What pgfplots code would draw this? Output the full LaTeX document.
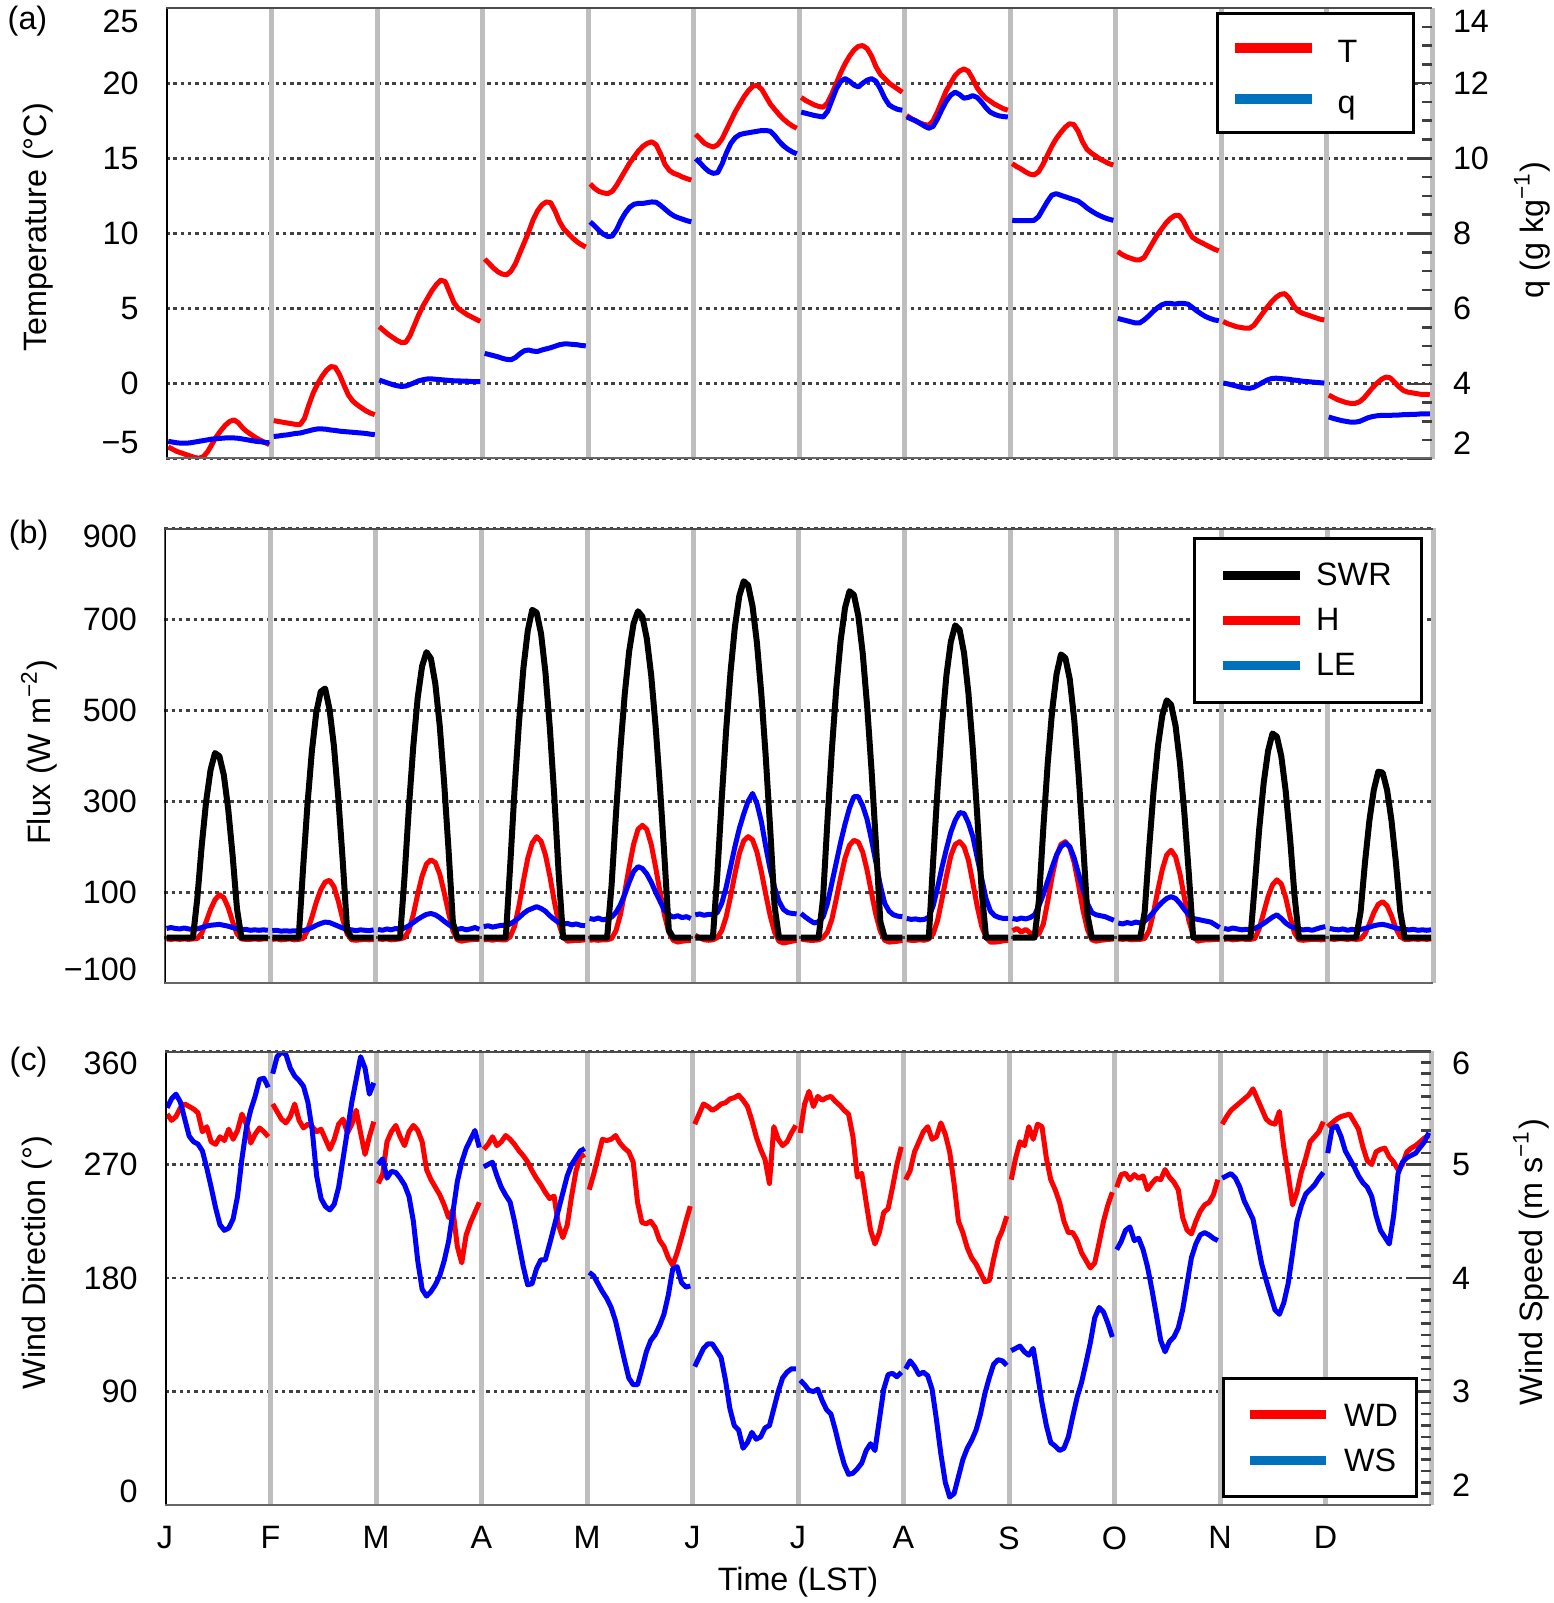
\documentclass[border=0pt]{standalone}
\usepackage{fontspec}
\setmainfont{Liberation Sans}
\usepackage{pgfplots}
\usepackage{pgfplotstable}
\pgfplotsset{compat=1.18}
\definecolor{legblue}{RGB}{0,114,189}
\definecolor{mgray}{RGB}{190,190,190}
\definecolor{dgrid}{RGB}{64,64,64}

\pgfplotstableread{
h m1 m2 m3 m4 m5 m6 m7 m8 m9 m10 m11 m12
0 -4.2 -2.45 3.8 8.3 13.3 16.6 19.05 17.85 14.65 8.8 4.15 -0.75
1 -4.35 -2.5 3.55 8.0 13.0 16.3 18.85 17.65 14.45 8.6 4.0 -0.9
2 -4.5 -2.55 3.3 7.7 12.8 16.0 18.7 17.5 14.3 8.45 3.9 -1.05
3 -4.6 -2.6 3.1 7.45 12.7 15.85 18.55 17.35 14.1 8.35 3.8 -1.15
4 -4.7 -2.65 2.9 7.3 12.65 15.75 18.45 17.25 13.95 8.25 3.75 -1.25
5 -4.8 -2.7 2.75 7.25 12.8 15.9 18.4 17.2 13.9 8.25 3.7 -1.3
6 -4.9 -2.72 2.75 7.5 13.2 16.3 18.7 17.5 14.1 8.4 3.7 -1.3
7 -4.95 -2.3 3.2 8.0 13.7 16.9 19.3 18.1 14.6 8.9 3.9 -1.2
8 -4.85 -1.4 3.9 8.7 14.2 17.5 20.0 18.8 15.2 9.4 4.3 -0.95
9 -4.5 -0.6 4.6 9.4 14.7 18.1 20.7 19.5 15.8 9.9 4.7 -0.6
10 -4.0 0.0 5.2 10.1 15.1 18.6 21.3 20.0 16.3 10.3 5.1 -0.25
11 -3.5 0.5 5.7 10.9 15.5 19.1 21.8 20.5 16.7 10.7 5.45 0.05
12 -3.1 0.9 6.2 11.5 15.8 19.5 22.2 20.8 17.05 11.0 5.75 0.3
13 -2.75 1.15 6.6 11.9 16.0 19.8 22.45 20.95 17.3 11.2 5.95 0.45
14 -2.5 1.1 6.9 12.1 16.1 19.85 22.5 20.8 17.25 11.2 6.0 0.4
15 -2.4 0.6 6.8 12.05 15.9 19.6 22.3 20.3 16.8 10.8 5.7 0.1
16 -2.6 -0.1 6.1 11.5 15.3 19.1 21.8 19.7 16.1 10.2 5.2 -0.2
17 -2.95 -0.75 5.4 10.8 14.6 18.6 21.1 19.3 15.6 9.75 4.85 -0.45
18 -3.2 -1.15 5.0 10.3 14.2 18.25 20.6 19.0 15.35 9.55 4.7 -0.55
19 -3.4 -1.4 4.8 10.0 14.0 17.9 20.3 18.8 15.15 9.4 4.6 -0.6
20 -3.6 -1.6 4.6 9.7 13.9 17.6 20.0 18.6 14.95 9.25 4.5 -0.65
21 -3.75 -1.8 4.45 9.45 13.75 17.35 19.8 18.45 14.8 9.1 4.4 -0.7
22 -3.9 -1.95 4.3 9.25 13.65 17.15 19.6 18.3 14.65 8.95 4.3 -0.7
23 -4.05 -2.05 4.15 9.1 13.55 17.0 19.4 18.2 14.55 8.85 4.25 -0.72
}\Ttab

\pgfplotstableread{
h m1 m2 m3 m4 m5 m6 m7 m8 m9 m10 m11 m12
0 2.47 2.6 4.1 4.81 8.31 9.99 11.23 11.1 8.35 5.74 4.02 3.12
1 2.45 2.61 4.06 4.78 8.2 9.88 11.2 11.05 8.34 5.71 4.0 3.08
2 2.43 2.63 4.02 4.75 8.08 9.75 11.17 11.0 8.34 5.68 3.97 3.05
3 2.42 2.64 3.98 4.72 7.98 9.65 11.14 10.93 8.34 5.65 3.94 3.02
4 2.42 2.66 3.95 4.68 7.92 9.6 11.12 10.86 8.34 5.62 3.91 3.0
5 2.43 2.68 3.93 4.65 7.93 9.62 11.1 10.8 8.35 5.62 3.89 2.98
6 2.45 2.69 3.94 4.64 8.1 9.85 11.25 10.85 8.45 5.7 3.88 2.98
7 2.47 2.72 3.98 4.7 8.35 10.15 11.55 11.05 8.65 5.8 3.91 3.0
8 2.49 2.75 4.03 4.8 8.55 10.4 11.85 11.3 8.85 5.92 3.97 3.05
9 2.51 2.78 4.08 4.88 8.7 10.55 12.05 11.52 9.02 6.02 4.04 3.1
10 2.53 2.8 4.11 4.9 8.78 10.63 12.12 11.68 9.06 6.1 4.1 3.13
11 2.54 2.8 4.13 4.87 8.8 10.66 12.05 11.76 9.02 6.14 4.14 3.15
12 2.55 2.79 4.13 4.86 8.8 10.68 11.95 11.7 8.98 6.14 4.15 3.16
13 2.56 2.77 4.12 4.9 8.82 10.7 11.9 11.6 8.94 6.12 4.14 3.16
14 2.56 2.76 4.11 4.93 8.84 10.72 12.0 11.62 8.9 6.14 4.13 3.16
15 2.56 2.74 4.1 4.96 8.83 10.74 12.08 11.67 8.86 6.14 4.12 3.17
16 2.55 2.73 4.09 5.0 8.75 10.74 12.12 11.62 8.78 6.12 4.1 3.17
17 2.53 2.72 4.08 5.04 8.65 10.72 12.05 11.5 8.68 6.03 4.09 3.18
18 2.51 2.71 4.08 5.06 8.55 10.6 11.85 11.35 8.6 5.94 4.07 3.18
19 2.49 2.7 4.07 5.06 8.47 10.45 11.6 11.23 8.53 5.86 4.06 3.19
20 2.47 2.69 4.07 5.05 8.42 10.33 11.42 11.17 8.47 5.79 4.05 3.19
21 2.46 2.68 4.06 5.04 8.38 10.24 11.35 11.13 8.42 5.74 4.04 3.2
22 2.44 2.66 4.06 5.02 8.34 10.17 11.3 11.11 8.38 5.7 4.03 3.2
23 2.43 2.65 4.06 5.01 8.31 10.12 11.28 11.1 8.35 5.68 4.02 3.2
}\Qtab

\pgfplotstableread{
h m1 m2 m3 m4 m5 m6 m7 m8 m9 m10 m11 m12
0 0 0 0 0 0 0 0 0 0 0 0 0
1 0 0 0 0 0 0 0 0 0 0 0 0
2 0 0 0 0 0 0 0 0 0 0 0 0
3 0 0 0 0 0 0 0 0 0 0 0 0
4 0 0 0 0 0 0 0 0 0 0 0 0
5 0 0 0 0 114 138 87 0 0 0 0 0
6 0 0 131 159 271 304 257 170 83 57 0 0
7 87 153 285 327 414 455 413 329 242 196 118 57
8 203 294 420 474 536 584 548 467 385 321 240 166
9 300 411 527 593 630 684 654 577 500 421 340 258
10 369 496 597 676 691 752 726 651 580 489 411 325
11 406 541 628 721 718 784 762 687 623 522 449 365
12 399 548 614 715 706 775 754 677 615 512 442 363
13 358 502 559 669 658 729 708 626 568 466 399 325
14 283 421 467 583 577 648 626 537 480 384 322 258
15 181 306 342 461 465 535 510 414 358 274 217 166
16 63 168 194 312 330 397 369 268 210 142 92 57
17 0 15 33 141 178 240 207 102 50 0 0 0
18 0 0 0 0 16 69 35 0 0 0 0 0
19 0 0 0 0 0 0 0 0 0 0 0 0
20 0 0 0 0 0 0 0 0 0 0 0 0
21 0 0 0 0 0 0 0 0 0 0 0 0
22 0 0 0 0 0 0 0 0 0 0 0 0
23 0 0 0 0 0 0 0 0 0 0 0 0
}\Stab

\pgfplotstableread{
h m1 m2 m3 m4 m5 m6 m7 m8 m9 m10 m11 m12
0 -3 -4 -3 -5 -6 5 -3 -5 15 -3 -4 -3
1 -4 -3 -4 -4 -5 0 -5 -6 20 -4 -3 -4
2 -3 -5 -3 -6 -6 -5 -6 -6 12 -3 -5 -3
3 -4 -4 -5 -4 -5 -6 -6 -5 18 -5 -4 -3
4 -3 -3 -4 -5 -5 -5 -5 -6 10 -4 -3 -4
5 -4 -5 -3 -5 -2 0 0 -3 5 -4 -4 -3
6 -3 -4 0 2 15 15 12 8 8 -2 -4 -4
7 -2 -2 15 25 50 45 40 38 30 15 -2 -3
8 10 15 50 70 100 90 85 85 80 55 20 8
9 35 45 95 125 155 140 132 135 135 105 55 30
10 62 78 135 175 205 185 175 180 180 150 90 55
11 83 105 162 208 238 213 203 205 205 182 116 73
12 94 122 171 222 247 222 214 211 211 192 127 79
13 88 126 165 212 238 215 210 200 198 178 118 70
14 66 112 140 182 205 188 188 170 165 140 88 48
15 35 80 100 135 155 145 148 120 115 88 45 20
16 8 40 55 80 100 95 98 68 60 38 10 2
17 -3 8 15 32 50 48 50 25 18 5 -5 -4
18 -4 -5 -5 2 12 12 14 0 -5 -8 -6 -4
19 -4 -6 -8 -8 -6 -8 -6 -10 -8 -6 -5 -3
20 -3 -5 -6 -7 -10 -12 -10 -10 -6 -5 -4 -4
21 -4 -4 -5 -6 -8 -10 -9 -9 -5 -5 -4 -3
22 -3 -5 -4 -6 -7 -8 -8 -7 -4 -4 -5 -4
23 -3 -4 -4 -5 -6 -6 -6 -6 -3 -4 -4 -3
}\Htab

\pgfplotstableread{
h m1 m2 m3 m4 m5 m6 m7 m8 m9 m10 m11 m12
0 20 15 18 24 42 50 53 42 42 32 20 20
1 22 16 16 26 40 52 45 40 40 30 18 18
2 20 14 19 23 43 49 38 41 43 33 21 17
3 19 15 17 25 39 51 32 39 41 31 19 19
4 21 14 20 27 41 50 35 40 44 34 17 16
5 19 15 18 26 45 55 45 45 50 32 18 18
6 18 14 21 30 55 75 75 70 70 36 17 17
7 19 15 26 36 72 110 120 110 95 45 20 18
8 22 18 33 44 95 155 165 155 125 56 25 20
9 25 22 40 53 122 200 210 195 155 68 31 23
10 27 27 46 60 145 240 250 232 182 78 38 26
11 28 31 51 64 156 272 285 258 200 86 45 28
12 29 34 53 68 152 300 310 275 208 90 50 29
13 27 33 50 64 140 317 310 273 200 86 42 27
14 25 29 44 58 122 295 290 252 175 75 32 24
15 22 25 36 48 100 255 260 222 140 62 25 21
16 19 21 29 40 80 200 215 175 105 50 21 19
17 17 18 22 33 60 150 165 130 75 42 18 18
18 18 17 18 30 50 110 115 85 55 40 17 17
19 16 15 20 31 45 80 75 58 50 38 18 18
20 17 17 17 28 48 62 58 48 48 36 16 16
21 16 16 19 30 44 55 50 44 46 34 19 17
22 17 15 22 27 46 53 47 42 42 28 22 16
23 16 17 18 26 42 52 46 42 38 22 24 17
}\Ltab

\pgfplotstableread{
h m1 m2 m3 m4 m5 m6 m7 m8 m9 m10 m11 m12
0 310 318 255 282 250 302 295 258 258 252 302 300
1 305 312 262 286 262 310 318 265 275 262 308 303
2 308 306 288 292 276 318 328 280 288 263 313 306
3 315 303 296 285 290 316 316 288 285 258 316 308
4 318 308 301 288 289 313 324 296 300 262 319 309
5 316 318 292 293 290 315 321 300 290 259 322 310
6 314 305 285 290 293 318 323 290 302 261 325 304
7 311 299 296 286 287 319 324 292 300 250 330 298
8 296 302 301 281 283 322 320 303 275 255 322 284
9 300 300 297 277 280 323 317 294 258 259 314 273
10 288 296 288 272 272 325 313 280 250 258 306 270
11 286 298 266 265 240 321 310 255 240 266 303 280
12 292 290 258 259 224 316 292 225 225 260 302 282
13 289 282 252 254 223 305 260 216 216 256 312 283
14 298 290 246 248 225 292 263 204 216 250 284 276
15 290 302 238 243 220 282 240 196 210 228 262 272
16 297 306 228 245 210 274 218 191 200 218 238 266
17 310 295 234 222 205 255 207 184 194 215 248 270
18 302 302 205 212 196 300 216 177 188 225 264 280
19 287 313 192 222 190 290 232 178 192 233 275 283
20 294 295 214 245 200 285 235 195 208 238 288 285
21 299 278 224 265 212 288 252 210 225 240 292 288
22 296 292 232 276 225 295 270 218 238 246 296 291
23 292 304 240 278 237 301 284 229 248 258 304 293
}\Dtab

\pgfplotstableread{
h m1 m2 m3 m4 m5 m6 m7 m8 m9 m10 m11 m12
0 5.5 5.8 5.0 4.98 4.05 3.22 3.1 3.2 3.36 4.25 4.88 5.1
1 5.58 5.95 5.05 5.0 4.02 3.3 3.06 3.27 3.38 4.32 4.9 5.32
2 5.62 5.99 4.88 5.02 3.95 3.38 3.01 3.22 3.4 4.42 4.92 5.34
3 5.55 5.97 4.94 4.9 3.88 3.42 3.0 3.15 3.35 4.45 4.88 5.25
4 5.4 5.85 4.93 4.8 3.82 3.42 3.02 3.17 3.32 4.33 4.8 5.12
5 5.25 5.78 4.88 4.73 3.74 3.36 2.92 3.14 3.38 4.35 4.68 5.05
6 5.2 5.74 4.82 4.67 3.62 3.3 2.84 3.02 3.15 4.25 4.6 4.98
7 5.18 5.69 4.72 4.5 3.45 3.1 2.8 2.75 2.9 4.1 4.52 4.9
8 5.12 5.55 4.5 4.3 3.28 2.85 2.66 2.45 2.7 3.9 4.32 4.84
9 4.97 5.3 4.15 4.1 3.12 2.7 2.5 2.2 2.55 3.68 4.12 4.8
10 4.8 4.9 3.9 3.94 3.06 2.66 2.36 2.07 2.52 3.45 3.98 4.72
11 4.62 4.7 3.84 3.95 3.06 2.5 2.27 2.1 2.48 3.35 3.85 4.55
12 4.47 4.63 3.88 4.08 3.2 2.55 2.28 2.25 2.5 3.44 3.72 4.42
13 4.42 4.6 3.94 4.16 3.35 2.64 2.32 2.4 2.6 3.48 3.68 4.36
14 4.44 4.65 4.02 4.16 3.45 2.58 2.37 2.5 2.78 3.56 3.78 4.3
15 4.52 4.8 4.15 4.3 3.5 2.6 2.48 2.57 2.95 3.72 3.95 4.55
16 4.72 5.05 4.32 4.45 3.58 2.68 2.54 2.66 3.08 3.95 4.22 4.92
17 5.05 5.3 4.58 4.6 3.68 2.7 2.48 2.8 3.25 4.18 4.5 5.02
18 5.32 5.55 4.85 4.75 3.85 2.85 2.75 2.98 3.43 4.3 4.64 5.06
19 5.48 5.75 5.02 4.9 4.08 3.0 3.02 3.12 3.65 4.38 4.74 5.08
20 5.6 5.95 5.14 5.0 4.1 3.12 3.15 3.24 3.74 4.4 4.78 5.1
21 5.75 5.85 5.22 5.06 3.96 3.17 3.16 3.28 3.7 4.38 4.82 5.15
22 5.76 5.62 5.3 5.12 3.92 3.2 3.13 3.27 3.6 4.35 4.88 5.2
23 5.68 5.72 5.15 5.14 3.93 3.2 3.17 3.23 3.48 4.33 4.93 5.28
}\Wtab

\pgfplotsset{
  panel/.style={
    scale only axis, anchor=north west,
    xmin=0, xmax=12,
    axis line style={draw=none},
    tick style={draw=none},
    major tick length=0pt, minor tick length=0pt,
    ymajorgrids,
    major grid style={dgrid, line width=0.28mm, dash pattern=on 0.35mm off 0.38mm},
    extra x ticks={1,2,...,12},
    extra x tick labels={},
    extra x tick style={grid=major, major grid style={mgray, line width=0.5mm, solid}},
    yticklabel style={xshift=-1.6mm},
  },
  rightpanel/.style={
    scale only axis, anchor=north west,
    xmin=0, xmax=12,
    axis x line=none,
    axis y line*=right,
    y axis line style={draw=none},
    tick align=inside,
    tick style={black!75, line width=0.25mm},
    major tick length=2.4mm, minor tick length=1mm,
    yticklabel style={xshift=0.95mm},
  },
  dline/.style={line width=0.5mm, line join=round},
}

\begin{document}
\fontsize{9.2}{11}\selectfont
\begin{tikzpicture}
\useasboundingbox (0,0) rectangle (155.3mm,-160.3mm);

% ---------------- panel (a) ----------------
\begin{axis}[panel, at={(16.6mm,-0.8mm)}, width=126.6mm, height=45.1mm,
  ymin=-5, ymax=25, xtick=\empty,
  ytick={-5,0,5,10,15,20,25},
  yticklabels={{\raisebox{1.6mm}[\height][\depth]{−5}},0,5,10,15,20,{\raisebox{-1.3mm}[\height][\depth]{25}}},
  ylabel={Temperature (°C)},
  ylabel style={at={(axis description cs:-0.101,0.514)}, anchor=center}]
\pgfplotsinvokeforeach{1,...,12}{
  \addplot[red, dline] table[x expr={#1-1+(\thisrow{h}+0.5)/24}, y=m#1]{\Ttab};
}
\end{axis}
\begin{axis}[rightpanel, at={(16.6mm,-0.8mm)}, width=126.6mm, height=45.1mm,
  ymin=2, ymax=14, ytick={2,4,...,14}, minor y tick num=3,
  yticklabels={{\raisebox{1.6mm}[\height][\depth]{2}},4,6,8,10,12,{\raisebox{-1.3mm}[\height][\depth]{14}}},
  ylabel={q (g kg\textsuperscript{−1})},
  ylabel style={at={(axis description cs:1.079,0.508)}, anchor=center},
  legend cell align=left,
  legend style={at={(axis description cs:0.9866,0.990)}, anchor=north east,
    draw=black, line width=0.3mm, fill=white, inner xsep=1.3mm, inner ysep=0.7mm,
    column sep=1.6mm, row sep=-0.3mm,
    nodes={inner sep=0.5mm, text height=3.7mm, text depth=0.7mm}},
  legend image code/.code={\draw[#1, line width=0.95mm] (0mm,0mm) -- (7.7mm,0mm);}]
\pgfplotsinvokeforeach{1,...,12}{
  \addplot[blue, dline, forget plot] table[x expr={#1-1+(\thisrow{h}+0.5)/24}, y=m#1]{\Qtab};
}
\addlegendimage{red}
\addlegendentry{\makebox[5.8mm][l]{T}}
\addlegendimage{legblue}
\addlegendentry{\makebox[5.8mm][l]{q}}
\draw[black, line width=0.3mm] (rel axis cs:0,0) -- (rel axis cs:0,1);
\draw[black!70, line width=0.3mm] (rel axis cs:0,1) -- (rel axis cs:1,1);
\draw[black!60, line width=0.3mm] (rel axis cs:0,0) -- (rel axis cs:1,0);
\end{axis}

% ---------------- panel (b) ----------------
\begin{axis}[panel, at={(16.43mm,-52.85mm)}, width=126.9mm, height=45.45mm,
  ymin=-100, ymax=900, xtick=\empty,
  ytick={-100,100,300,500,700,900},
  yticklabels={{\raisebox{1.4mm}[\height][\depth]{−100}},100,300,500,700,{\raisebox{-0.8mm}[\height][\depth]{900}}},
  extra y ticks={0}, extra y tick labels={}, extra y tick style={grid=major},
  ylabel={Flux (W m\textsuperscript{−2})},
  ylabel style={at={(axis description cs:-0.0987,0.508)}, anchor=center},
  legend cell align=left,
  legend style={at={(axis description cs:0.992,0.982)}, anchor=north east,
    draw=black, line width=0.3mm, fill=white, inner xsep=2.4mm, inner ysep=1.46mm,
    column sep=0.65mm, row sep=0mm,
    nodes={inner sep=0.5mm, text height=2.8mm, text depth=0.7mm}},
  legend image code/.code={\draw[#1, line width=0.95mm] (0mm,0mm) -- (7.7mm,0mm);}]
\pgfplotsinvokeforeach{1,...,12}{
  \addplot[red, dline, forget plot] table[x expr={#1-1+(\thisrow{h}+0.5)/24}, y=m#1]{\Htab};
}
\pgfplotsinvokeforeach{1,...,12}{
  \addplot[blue, dline, forget plot] table[x expr={#1-1+(\thisrow{h}+0.5)/24}, y=m#1]{\Ltab};
}
\pgfplotsinvokeforeach{1,...,12}{
  \addplot[black, line width=0.6mm, line join=round, forget plot] table[x expr={#1-1+(\thisrow{h}+0.5)/24}, y=m#1]{\Stab};
}
\addlegendimage{black}
\addlegendentry{\makebox[7.65mm][l]{SWR}}
\addlegendimage{red}
\addlegendentry{\makebox[7.65mm][l]{H}}
\addlegendimage{legblue}
\addlegendentry{\makebox[7.65mm][l]{LE}}
\draw[black, line width=0.3mm] (rel axis cs:0,0) -- (rel axis cs:0,1);
\draw[black!70, line width=0.3mm] (rel axis cs:0,1) -- (rel axis cs:1,1);
\draw[black!60, line width=0.3mm] (rel axis cs:0,0) -- (rel axis cs:1,0);
\end{axis}

% ---------------- panel (c) ----------------
\begin{axis}[panel, at={(16.5mm,-105.1mm)}, width=126.6mm, height=45.4mm,
  ymin=0, ymax=360,
  ytick={0,90,180,270,360},
  yticklabels={{\raisebox{1.35mm}[\height][\depth]{0}},90,180,270,{\raisebox{-1.2mm}[\height][\depth]{360}}},
  xtick={0,1,...,11},
  xticklabels={J,F,M,A,M,J,J,A,S,O,N,D},
  xticklabel style={yshift=-1.0mm},
  xlabel={Time (LST)},
  xlabel style={at={(axis description cs:0.5,0)}, anchor=center, yshift=-7.76mm},
  ylabel={Wind Direction (°)},
  ylabel style={at={(axis description cs:-0.101,0.534)}, anchor=center}]
\pgfplotsinvokeforeach{1,...,12}{
  \addplot[red, dline] table[x expr={#1-1+(\thisrow{h}+0.5)/24}, y=m#1]{\Dtab};
}
\end{axis}
\begin{axis}[rightpanel, at={(16.5mm,-105.1mm)}, width=126.6mm, height=45.4mm,
  ymin=2, ymax=6, ytick={2,3,4,5,6}, minor y tick num=9,
  yticklabels={{\raisebox{2mm}[\height][\depth]{2}},3,4,5,{\raisebox{-1.2mm}[\height][\depth]{6}}},
  ylabel={Wind Speed (m s\textsuperscript{−1})},
  ylabel style={at={(axis description cs:1.079,0.535)}, anchor=center},
  legend cell align=left,
  legend style={at={(axis description cs:0.9897,0.0163)}, anchor=south east,
    draw=black, line width=0.3mm, fill=white, inner xsep=2.24mm, inner ysep=1.22mm,
    column sep=0.8mm, row sep=-0.12mm,
    nodes={inner sep=0.5mm, text height=3.0mm, text depth=0.7mm}},
  legend image code/.code={\draw[#1, line width=0.95mm] (0mm,0mm) -- (7.6mm,0mm);}]
\pgfplotsinvokeforeach{1,...,12}{
  \addplot[blue, dline, forget plot] table[x expr={#1-1+(\thisrow{h}+0.5)/24}, y=m#1]{\Wtab};
}
\addlegendimage{red}
\addlegendentry{\makebox[4.5mm][l]{WD}}
\addlegendimage{legblue}
\addlegendentry{\makebox[4.5mm][l]{WS}}
\draw[black, line width=0.3mm] (rel axis cs:0,0) -- (rel axis cs:0,1);
\draw[black!70, line width=0.3mm] (rel axis cs:0,1) -- (rel axis cs:1,1);
\draw[black!60, line width=0.3mm] (rel axis cs:0,0) -- (rel axis cs:1,0);
\end{axis}

\node at (2.75mm,-2.1mm) {(a)};
\node at (2.86mm,-53.5mm) {(b)};
\node at (2.86mm,-106.2mm) {(c)};
\end{tikzpicture}
\end{document}
